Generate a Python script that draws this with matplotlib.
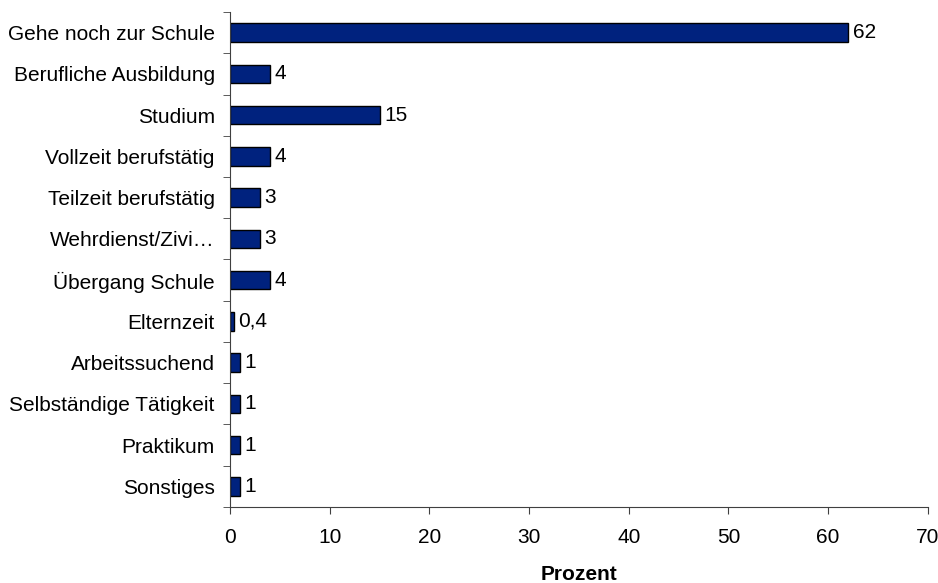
import numpy as np
import matplotlib.pyplot as plt
from matplotlib.ticker import FixedLocator, MultipleLocator

categories = ['Gehe noch zur Schule', 'Berufliche Ausbildung', 'Studium',
              'Vollzeit berufstätig', 'Teilzeit berufstätig', 'Wehrdienst/Zivi…',
              'Übergang Schule', 'Elternzeit', 'Arbeitssuchend',
              'Selbständige Tätigkeit', 'Praktikum', 'Sonstiges']
values = [62, 4, 15, 4, 3, 3, 4, 0.4, 1, 1, 1, 1]
value_labels = ['62', '4', '15', '4', '3', '3', '4', '0,4', '1', '1', '1', '1']

plt.rcParams['font.family'] = ['Liberation Sans', 'DejaVu Sans']
fs = 15

fig = plt.figure(figsize=(9.38, 5.83), dpi=100)
ax = fig.add_axes([0.2452, 0.1304, 0.744, 0.849])

n = len(categories)
y = np.arange(n)
ax.barh(y, values, height=0.45, color='#00227E', edgecolor='black', linewidth=1)
for yi, v, lab in zip(y, values, value_labels):
    ax.text(v + 0.45, yi, lab, va='center', ha='left', fontsize=fs)

ax.set_ylim(n - 0.5, -0.5)
ax.set_xlim(0, 70)
ax.xaxis.set_major_locator(MultipleLocator(10))
ax.set_yticks(y)
ax.set_yticklabels(categories, fontsize=fs)
ax.yaxis.set_minor_locator(FixedLocator(np.arange(-0.5, n, 1)))
ax.tick_params(axis='y', which='major', length=0, pad=11)
ax.tick_params(axis='y', which='minor', length=5, direction='out', color='#404040')
ax.tick_params(axis='x', length=5, direction='out', labelsize=fs, pad=10, color='#404040')

for s in ['top', 'right']:
    ax.spines[s].set_visible(False)
for s in ['left', 'bottom']:
    ax.spines[s].set_color('#404040')

ax.set_xlabel('Prozent', fontsize=fs, fontweight='bold', labelpad=13)

fig.savefig('out.png', dpi=100)
